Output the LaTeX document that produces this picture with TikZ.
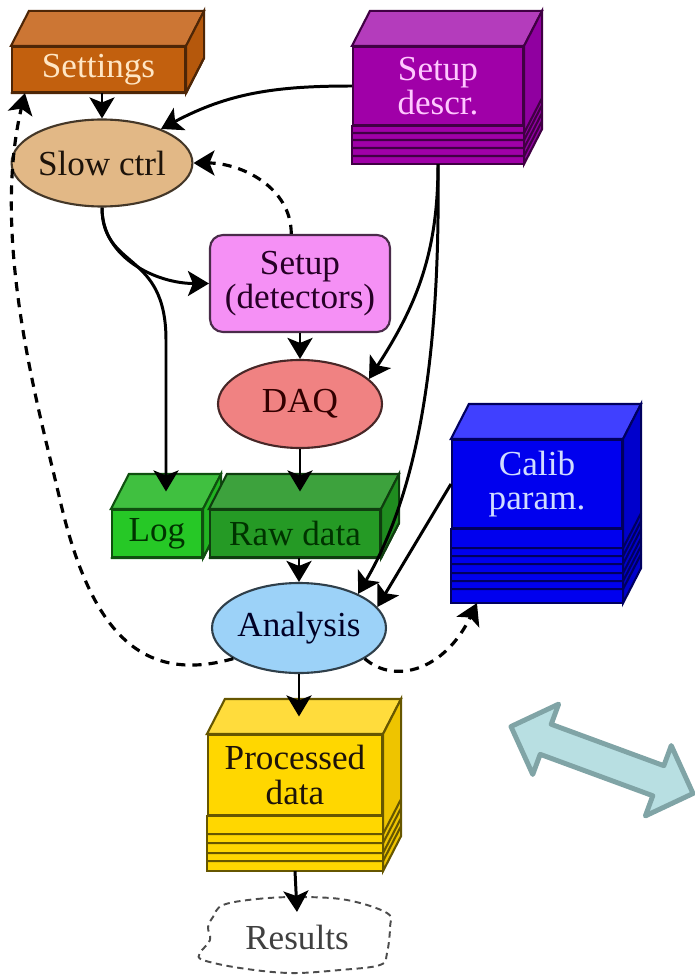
\documentclass[tikz,border=0pt]{standalone}
\usepackage{fontspec}
\setmainfont{Liberation Serif}
\newfontfamily\diagfont{Liberation Serif}
\usepackage{tikz}
\usepackage{xcolor}
\usetikzlibrary{arrows.meta,shapes.geometric,calc}
\tikzset{%
  tipA/.tip={Stealth[length=2.1mm,width=2.5mm,inset=0.5mm]},
}
\definecolor{setcol}{HTML}{C2600E}
\definecolor{settop}{HTML}{CC7634}
\definecolor{setside}{HTML}{B5580C}
\definecolor{setlbl}{HTML}{FFE6C4}
\definecolor{descol}{HTML}{A000A8}
\definecolor{destop}{HTML}{B43CBC}
\definecolor{desside}{HTML}{9000A0}
\definecolor{deslbl}{HTML}{FFC8FF}
\definecolor{slowcol}{HTML}{E2B886}
\definecolor{detcol}{HTML}{F590F5}
\definecolor{daqcol}{HTML}{F08282}
\definecolor{logcol}{HTML}{26C826}
\definecolor{logtop}{HTML}{40C040}
\definecolor{logside}{HTML}{22B422}
\definecolor{rawcol}{HTML}{259A25}
\definecolor{rawtop}{HTML}{3DA23D}
\definecolor{rawside}{HTML}{1F8C1F}
\definecolor{calcol}{HTML}{0000EE}
\definecolor{caltop}{HTML}{4040FF}
\definecolor{calside}{HTML}{0000CC}
\definecolor{callbl}{HTML}{D0DCFF}
\definecolor{ancol}{HTML}{9CD2F8}
\definecolor{pdcol}{HTML}{FFD700}
\definecolor{pdtop}{HTML}{FFDC3C}
\definecolor{pdside}{HTML}{EEC400}
\definecolor{bigfill}{HTML}{B8DFE2}
\definecolor{bigline}{HTML}{80A4A6}

% 3d box round a front node: name, front, top, side, stack height, stack lines
\newcommand{\dbox}[6]{%
  \path ($(#1.south west)+(0,-#5)$) coordinate (#1-sw)
        ($(#1.south east)+(0,-#5)$) coordinate (#1-se)
        ($(#1.south)+(0,-#5)$) coordinate (#1-bot)
        ($(#1.north)+(9,17.5)$) coordinate (#1-top);
  \draw[boxline=#2, fill=#2] (#1.south west) rectangle (#1-se);
  \draw[boxline=#2, fill=#3] (#1.north west) -- ++(18,35) -- ($(#1.north east)+(18,35)$) -- (#1.north east) -- cycle;
  \draw[boxline=#2, fill=#4] (#1.north east) -- ++(18,35) -- ($(#1-se)+(18,35)$) -- (#1-se) -- cycle;
  \foreach \hh in {#6} \draw[boxline=#2] ($(#1-sw)+(0,\hh)$) -- ($(#1-se)+(0,\hh)$) -- ++(18,35);
}

\begin{document}
\begin{tikzpicture}[x=0.1mm,y=0.1mm,
  lbl/.style={font=\diagfont\fontsize{10}{9.8}\selectfont, align=center, inner sep=0pt},
  boxline/.style={draw=#1!40!black, line width=0.6pt},
  front/.style={lbl, rectangle, fill=#1, boxline=#1},
  ell/.style={lbl, ellipse, fill=#1, draw=#1!30!black, line width=0.6pt},
  arr/.style={line width=0.85pt, -tipA},
  dasharr/.style={arr, line width=0.9pt, dash pattern=on 2.6pt off 2pt},
  bigarrow/.style={fill=bigfill, draw=bigline, line width=1.4pt, line join=round}]
	\useasboundingbox (0,0) rectangle (694,-975);

	\node[front=setcol, minimum width=17.3mm, minimum height=4.5mm, text=setlbl] (set) at (98.5,-69.5) {Settings};
	\dbox{set}{setcol}{settop}{setside}{0}{0}
	\node[front=descol, minimum width=17mm, minimum height=7.8mm, text=deslbl] (sd) at (438,-86) {Setup\\descr.};
	\dbox{sd}{descol}{destop}{desside}{38}{8,16,24,31}
	\node[ell=slowcol, minimum width=16.1mm, minimum height=8.7mm, text=black!85!brown] (slow) at (102,-163) {Slow ctrl};
	\node[lbl, rounded corners=1.3mm, fill=detcol, draw=detcol!30!black, line width=0.6pt, minimum width=18mm, minimum height=9.7mm, text=black!70!violet] (det) at (300,-283.5) {Setup\\(detectors)};
	\node[ell=daqcol, minimum width=16.4mm, minimum height=8.8mm, text=black!80!red] (daq) at (300,-404) {DAQ};
	\node[front=logcol, minimum width=9mm, minimum height=4.7mm, text=black!80!green] (log) at (157,-533.5) {Log};
	\dbox{log}{logcol}{logtop}{logside}{0}{0}
	\node[front=rawcol, minimum width=17mm, minimum height=4.7mm, text=black!80!green] (raw) at (295,-533.5) {Raw data};
	\dbox{raw}{rawcol}{rawtop}{rawside}{0}{0}
	\node[front=calcol, minimum width=17mm, minimum height=8.8mm, text=callbl] (cal) at (537,-484) {Calib\\param.};
	\dbox{cal}{calcol}{caltop}{calside}{74}{14,22,30,39,47,55}
	\node[ell=ancol, minimum width=16.2mm, minimum height=9mm, text=black!85!blue] (an) at (299,-628) {Analysis};
	\node[front=pdcol, minimum width=17.4mm, minimum height=8mm, text=black!85!brown] (pd) at (295,-775) {Processed\\data};
	\dbox{pd}{pdcol}{pdtop}{pdside}{55}{10,18,28,37}
	\node[lbl, inner sep=1.2mm, text=black!75] (res) at (297,-937) {Results};
	\draw[black!70, line width=0.55pt, dash pattern=on 1.8pt off 1.3pt] plot[smooth cycle, tension=.6] coordinates {(223,-905) (257,-899) (300,-897) (347,-900) (387,-913) (390,-927) (387,-953) (380,-965) (340,-970) (290,-973) (240,-968) (203,-960) (200,-953) (210,-940) (208,-927) (213,-917)};

	\draw[arr] (slow.north |- set.south) -- (slow.north);
	\draw[arr] (sd.west) to[out=180,in=28] (slow.30);
	\draw[dasharr] (det.100) to[out=90,in=0] (slow.east);
	\draw[arr] (slow.south) to[out=-90,in=180] (det.west);
	\draw[arr] (slow.south) .. controls (102,-270) and (166,-250) .. (166,-340) -- (log-top);
	\draw[arr] (det.south) -- (daq.north);
	\draw[arr] (sd-bot) to[out=-90,in=57] (daq.20);
	\draw[arr] (sd-bot) .. controls (440,-330) and (425,-480) .. (an.30);
	\draw[arr] (daq.south) -- (daq.south |- raw-top);
	\draw[arr] (an.north |- raw.south) -- (an.north);
	\draw[arr] (cal.west) -- (an.15);
	\draw[arr] (an.south) -- (an.south |- pd-top);
	\draw[arr] (pd-bot) -- (res.north);
	\draw[dasharr] (an.205) .. controls (140,-685) and (90,-630) .. (60,-500) .. controls (40,-413) and (-10,-240) .. ($(set.south west)+(14,0)$);
	\draw[dasharr] (an.-25) .. controls (395,-685) and (445,-670) .. ($(cal-sw)+(26,0)$);

	\draw[bigarrow, shift={(602,-760)}, rotate=-20.2] (-97,0) -- (-60,37.5) -- (-60,16) -- (60,16) -- (60,37.5) -- (97,0) -- (60,-37.5) -- (60,-16) -- (-60,-16) -- (-60,-37.5) -- cycle;
\end{tikzpicture}
\end{document}
